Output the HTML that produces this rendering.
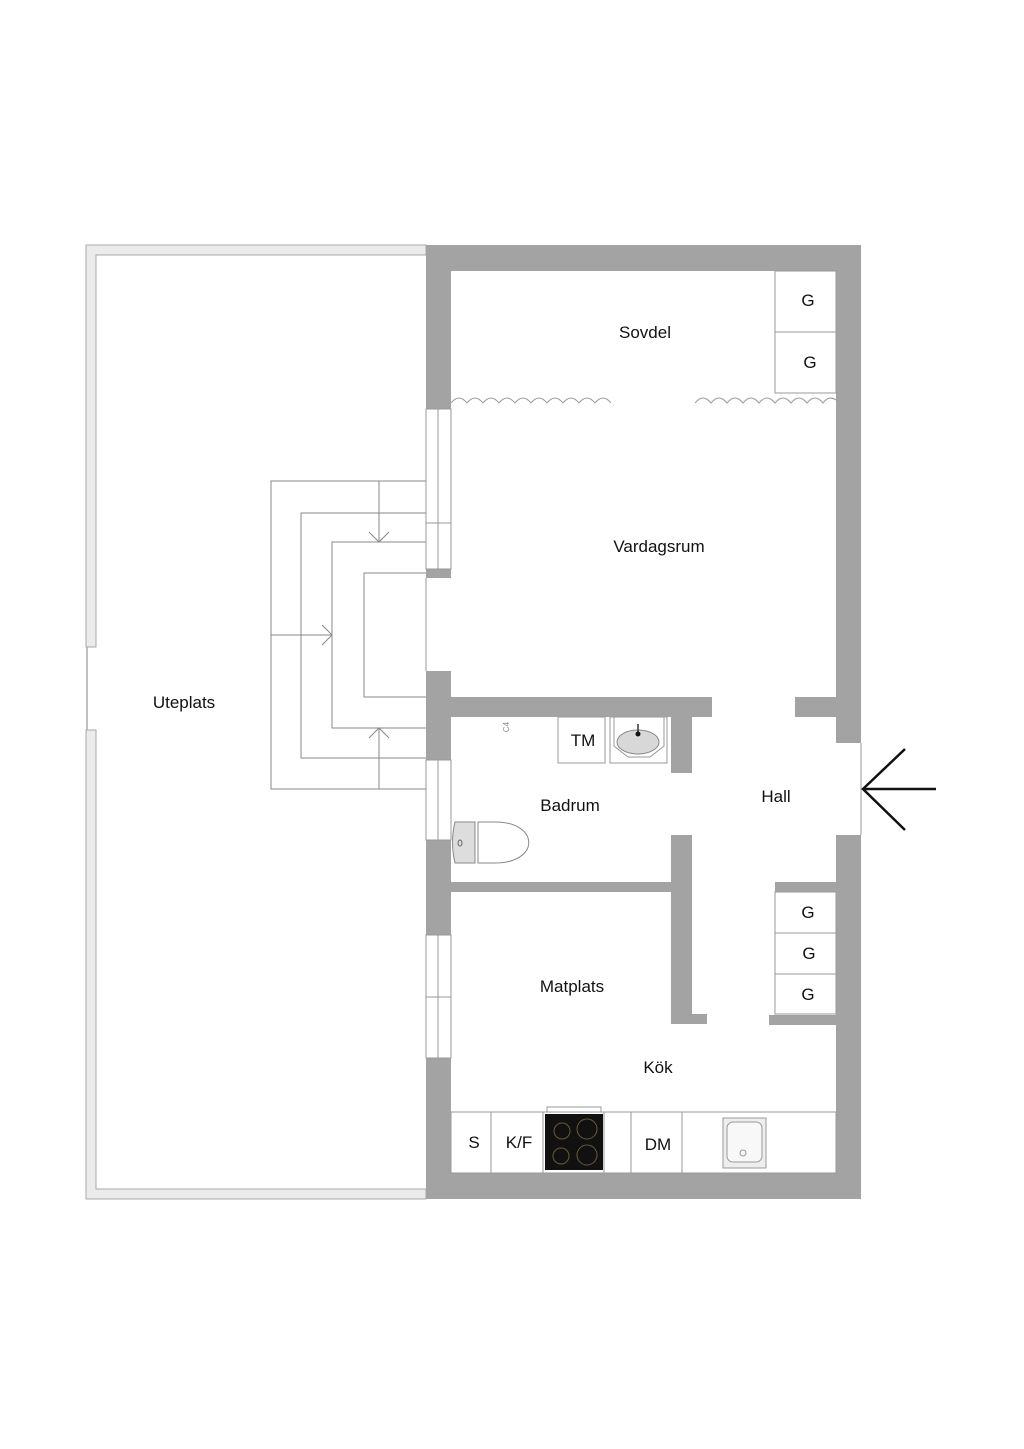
<!DOCTYPE html>
<html><head><meta charset="utf-8"><style>
html,body{margin:0;padding:0;background:#fff;}
svg{display:block;}
text{font-family:"Liberation Sans",sans-serif;font-size:17px;fill:#111;text-anchor:middle;}
</style></head><body>
<svg width="1024" height="1449" viewBox="0 0 1024 1449" xmlns="http://www.w3.org/2000/svg">
<path d="M86 245 H426 V255 H96 V647 H86 Z" fill="#ebebeb" stroke="#aaa" stroke-width="1"/>
<path d="M86 730 H96 V1189 H426 V1199 H86 Z" fill="#ebebeb" stroke="#aaa" stroke-width="1"/>
<line x1="87" y1="647" x2="87" y2="730" stroke="#aaa" stroke-width="1.5"/>
<g fill="none" stroke="#888" stroke-width="1">
<path d="M426 481 H271 V789 H426"/>
<path d="M426 513 H301 V758 H426"/>
<path d="M426 542 H332 V728 H426"/>
<path d="M426 573 H364 V697 H426"/>
<line x1="379" y1="481" x2="379" y2="542"/>
<path d="M369 532 L379 542 L389 532"/>
<line x1="379" y1="728" x2="379" y2="789"/>
<path d="M369 738 L379 728 L389 738"/>
<line x1="271" y1="635" x2="332" y2="635"/>
<path d="M322 625 L332 635 L322 645"/>
</g>
<g fill="#a3a3a3">
<rect x="426" y="245" width="435" height="26"/>
<rect x="426" y="1173" width="435" height="26"/>
<rect x="426" y="245" width="25" height="164"/>
<rect x="426" y="569" width="25" height="9"/>
<rect x="426" y="671" width="25" height="89"/>
<rect x="426" y="840" width="25" height="95"/>
<rect x="426" y="1058" width="25" height="141"/>
<rect x="836" y="245" width="25" height="498"/>
<rect x="836" y="835" width="25" height="364"/>
<rect x="451" y="697" width="261" height="20"/>
<rect x="795" y="697" width="41" height="20"/>
<rect x="671" y="717" width="21" height="56"/>
<rect x="671" y="835" width="21" height="189"/>
<rect x="692" y="1014" width="15" height="10"/>
<rect x="451" y="882" width="220" height="10"/>
<rect x="775" y="882" width="61" height="10"/>
<rect x="769" y="1015" width="67" height="10"/>
</g>
<g fill="#fff" stroke="#999" stroke-width="1">
<rect x="426" y="409" width="25" height="160"/>
<line x1="438" y1="409" x2="438" y2="569"/>
<line x1="426" y1="523" x2="451" y2="523"/>
<rect x="426" y="760" width="25" height="80"/>
<line x1="438" y1="760" x2="438" y2="840"/>
<rect x="426" y="935" width="25" height="123"/>
<line x1="438" y1="935" x2="438" y2="1058"/>
<line x1="426" y1="997" x2="451" y2="997"/>
<line x1="426" y1="578" x2="426" y2="671"/>
<line x1="861" y1="743" x2="861" y2="835"/>
</g>
<g fill="none" stroke="#999" stroke-width="1">
<rect x="775" y="271" width="61" height="122"/>
<line x1="775" y1="332" x2="836" y2="332"/>
<rect x="775" y="892" width="61" height="122"/>
<line x1="775" y1="933" x2="836" y2="933"/>
<line x1="775" y1="974" x2="836" y2="974"/>
<path d="M451 403 q8 -10 16 0 q8 -10 16 0 q8 -10 16 0 q8 -10 16 0 q8 -10 16 0 q8 -10 16 0 q8 -10 16 0 q8 -10 16 0 q8 -10 16 0 q8 -10 16 0"/>
<path d="M695 403 q8 -10 16 0 q8 -10 16 0 q8 -10 16 0 q8 -10 16 0 q8 -10 16 0 q8 -10 16 0 q8 -10 16 0 q8 -10 16 0 q6 -8 13 -3"/>
<rect x="558" y="717" width="47" height="46"/>
<rect x="610" y="717" width="57" height="46"/>
<path d="M614 717 V746 L628 757 H650 L664 746 V717"/>
<rect x="451" y="1112" width="385" height="61"/>
<line x1="491" y1="1112" x2="491" y2="1173"/>
<line x1="543" y1="1112" x2="543" y2="1173"/>
<line x1="604" y1="1112" x2="604" y2="1173"/>
<line x1="631" y1="1112" x2="631" y2="1173"/>
<line x1="682" y1="1112" x2="682" y2="1173"/>
</g>
<ellipse cx="638" cy="742" rx="21" ry="12" fill="#d8d8d8" stroke="#888"/>
<line x1="638" y1="724" x2="638" y2="736" stroke="#333" stroke-width="1.5"/>
<circle cx="638" cy="734" r="2.5" fill="#111"/>
<path d="M478 822 H495 C540 822 540 863 495 863 H478 Z" fill="#fff" stroke="#888"/>
<path d="M455 822 H475 V863 H455 Q450 842 455 822 Z" fill="#ddd" stroke="#888"/>
<ellipse cx="460" cy="843" rx="2" ry="3" fill="none" stroke="#666"/>
<text x="506" y="730" style="font-size:8px;fill:#888" transform="rotate(-90 506 727)">C4</text>
<rect x="545" y="1114" width="58" height="56" fill="#111"/>
<rect x="547" y="1107" width="54" height="5" fill="none" stroke="#999"/>
<g fill="none" stroke="#6a5a3a" stroke-width="1">
<circle cx="562" cy="1131" r="8"/><circle cx="587" cy="1129" r="10"/>
<circle cx="561" cy="1156" r="8"/><circle cx="587" cy="1155" r="10"/>
</g>
<rect x="723" y="1118" width="43" height="50" fill="#eee" stroke="#999"/>
<rect x="727" y="1122" width="35" height="40" rx="6" fill="#f8f8f8" stroke="#999"/>
<circle cx="743" cy="1153" r="3" fill="none" stroke="#999"/>
<g fill="none" stroke="#111" stroke-width="2.5">
<path d="M905 749 L863 789 L905 830"/>
<line x1="863" y1="789" x2="936" y2="789"/>
</g>
<text x="645" y="338">Sovdel</text>
<text x="808" y="306">G</text>
<text x="810" y="368">G</text>
<text x="659" y="552">Vardagsrum</text>
<text x="184" y="708">Uteplats</text>
<text x="583" y="746">TM</text>
<text x="570" y="811">Badrum</text>
<text x="776" y="802">Hall</text>
<text x="808" y="918">G</text>
<text x="809" y="959">G</text>
<text x="808" y="1000">G</text>
<text x="572" y="992">Matplats</text>
<text x="658" y="1073">Kök</text>
<text x="474" y="1148">S</text>
<text x="519" y="1148">K/F</text>
<text x="658" y="1150">DM</text>
</svg>
</body></html>
